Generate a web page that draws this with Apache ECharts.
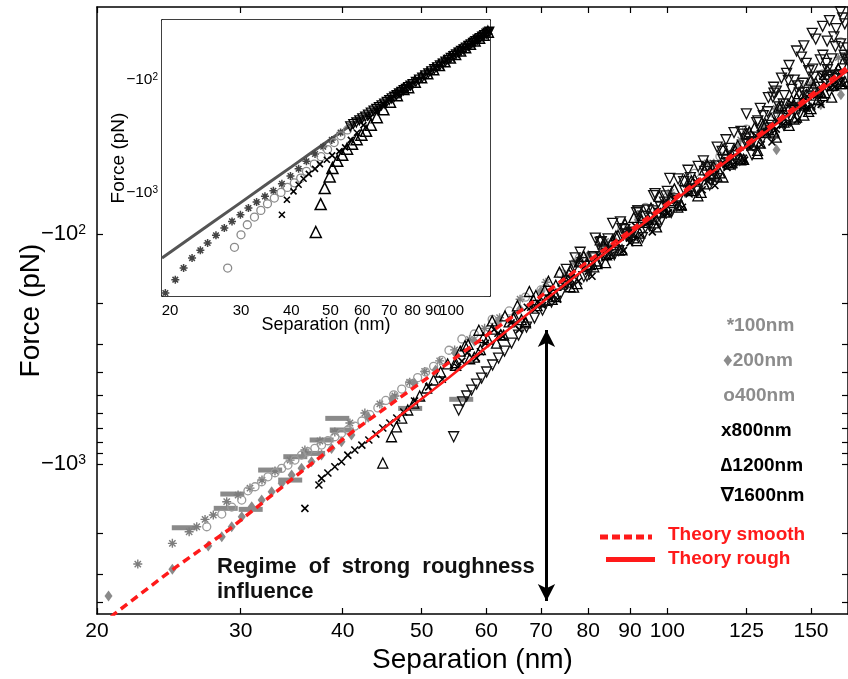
<!DOCTYPE html>
<html><head><meta charset="utf-8">
<script src="https://cdn.jsdelivr.net/npm/echarts@6/dist/echarts.min.js"></script>
<style>html,body{margin:0;padding:0;background:#fff}#c{width:848px;height:679px}</style>
</head><body><div id="c"></div>
<script>
// ---------- tick values ----------
const xTickMain = [20,30,40,50,60,70,80,90,100,125,150];
const yLabelMain = [100,1000];
const yTickMain = [100,200,300,400,500,600,700,800,900,1000,2000,3000,4000];
const xLabelInset = [20,30,40,50,60,70,80,90];
const xLabelInsetLast = [100];
const xTickInset = [20,30,40,50,60,70,80,90,100,110,120];
const yLabelInset = [100,1000];
const yTickInset = [100,200,300,400,500,600,700,800,900,1000,2000,3000,4000,5000,6000,7000,8000];

// ---------- main plot data: [separation nm, |force| pN] ----------
const s100 = [[22.44,2722],[24.74,2212],[25.94,1970],[26.50,1873],[27.13,1740],[27.77,1666],[28.84,1458],[29.78,1364],[30.80,1272],[31.86,1174],[33.05,1073],[34.49,961],[35.96,869],[37.52,794],[39.13,726],[40.83,663],[42.59,600],[44.43,548],[46.35,506],[48.33,441],[50.42,396],[52.6,356],[54.87,319],[57.23,287],[59.71,257],[62.29,231],[66,192],[71,162],[77,133.6],[84,107.6],[92,82.2],[101,65.9],[112,49.1],[123,39.0],[136,28.4],[150,22.3],[162,17.1]];
const s200 = [[20.66,3749],[24.74,2870],[27.38,2273],[28.44,2071],[29.25,1873],[30.09,1695],[30.95,1533],[31.83,1434],[32.74,1320],[33.68,1213],[34.64,1116],[35.62,1044],[36.64,977],[37.69,914],[38.77,855],[39.87,800],[41.01,748],[43,626],[46,522],[49,445],[52,390],[55,331],[58,292],[62,241],[66,212],[70,177],[75,151],[80,123.5],[86,105.5],[92,86.7],[99,72.4],[106,61.3],[114,49.5],[122,42.0],[131,34.0],[136.1,43.0],[145,27.2],[154.2,27.4],[163.2,24.8]];
const s400 = [[27.26,1873],[28.44,1650],[29.25,1538],[30.09,1434],[30.62,1307],[31.24,1255],[31.83,1194],[32.40,1136],[33.05,1091],[33.68,1044],[34.28,1010],[34.96,961],[35.62,914],[36.26,884],[36.98,855],[37.69,827],[38.37,792],[39.13,761],[39.87,735],[40.59,711],[41.40,684],[42.23,650],[43.19,610],[44.18,570],[45.18,529],[46.21,500],[47.26,472],[48.33,446],[49.43,421],[50.56,398],[51.71,376],[52.89,354],[54,320],[56,286],[58,272],[61,235],[64,216],[67,188],[70,175],[74,148.7],[78,127],[83,113.6],[88,94.7],[94,76.5],[100,69.1],[108,54.5],[116,45.9],[125,35.0],[135,29.9],[145,22.3],[155,20.1],[163,14.6]];
const s800 = [[35.96,1558],[37.41,1234],[37.69,1154],[38.37,1094],[39.13,1027],[39.87,977],[40.59,914],[41.40,869],[42.23,827],[43.07,786],[43.93,741],[44.80,697],[45.69,663],[46.60,631],[47.53,594],[49,532],[51,462],[53,428],[56,357],[59,325],[62,270],[65,248],[68,208],[72,191],[76,156],[80,145],[85,114.5],[90,109],[95,87.4],[100,81.2],[106,64.2],[112,59.0],[118,49.9],[124,46.8],[130,36.5],[136,35.0],[142,27.1],[148,28.4],[155,20.5],[161,21.8]];
const s800band = [[55.35,379.5],[56.85,328.4],[58.35,346.2],[59.85,298.9],[61.35,259.7],[62.85,278.9],[64.35,243.4],[65.85,260.2],[67.35,208],[68.85,212.8],[70.35,204.6],[71.85,179.8],[73.35,192.1],[74.85,167.8],[76.35,147.4],[77.85,160],[79.35,141.3],[80.85,152.6],[82.35,123.4],[83.85,127.1],[85.35,123.4],[86.85,109.4],[88.35,118],[89.85,104.1],[91.35,92.1],[92.85,100.9],[94.35,89.9],[95.85,97.8],[97.35,79.6],[98.85,82.6],[100.35,80.9],[102.35,71.3],[104.35,76.5],[106.35,67],[108.35,59],[110.35,64.2],[112.35,56.8],[114.35,61.5],[116.35,49.7],[118.35,51.3],[120.35,49.8],[122.35,44.3],[124.35,47.7],[126.35,42.1],[128.35,37.3],[130.35,40.9],[132.35,36.5],[134.35,39.8],[136.35,32.4],[138.35,33.6],[140.35,32.9],[142.35,29.4],[144.35,31.9],[146.35,28.3],[148.35,25.2],[150.35,27.8],[152.35,24.9],[154.35,27.3],[156.35,22.3],[158.35,23.2],[160.35,22.9],[162.35,20.5],[164.35,22.4]];
const s1200 = [[44.80,990],[45.91,761],[46.56,689],[47.26,631],[48.07,582],[48.89,543],[49.72,506],[50.71,467],[51.71,431],[52.75,398],[53.80,367],[55,362],[57,302],[59,318],[61,259],[63,275],[65,229],[67,240],[69,185],[71,194],[73,167],[76,169.5],[78,132],[82,131],[84,133],[87,101.4],[91,104],[93,87],[97,86.2],[101,71.6],[104,74.9],[107,58.7],[111,60.5],[114,51.0],[117,56.5],[120,45.3],[123,46.9],[126,35.9],[129,44.7],[132,33.3],[135,35.7],[138,27.6],[141,33.7],[144,25.6],[147,30.4],[150,21.4],[153,26.0],[156,20.2],[159,25.4],[162,19.1],[165,21.7]];
const s1200band = [[55,372.6],[56.5,305.9],[58,343.1],[59.5,282],[61,238.5],[62.5,273.9],[64,241],[65.5,205.1],[67,243.4],[68.5,193.1],[70,197.2],[71.5,160.4],[73,187],[74.5,159.9],[76,144.4],[77.5,164.3],[79,125],[80.5,135.8],[82,134.5],[83.5,110.6],[85,121.2],[86.5,101.9],[88,117],[89.5,98.2],[91,84.6],[92.5,99.1],[94,89],[95.5,77.1],[97,93.1],[98.5,75],[100,77.9],[102,63.6],[104,74.5],[106,63.8],[108,57.8],[110,65.9],[112,50.2],[114,54.7],[116,54.2],[118,44.7],[120,48.9],[122,41.2],[124,47.3],[126,39.7],[128,34.3],[130,40.2],[132,36.2],[134,31.3],[136,37.9],[138,30.5],[140,31.7],[142,26.2],[144,31],[146,27],[148,24.7],[150,28.5],[152,22],[154,24.3],[156,24.3],[158,20.2],[160,22.5],[162,19.1],[164,22.2],[166,18.9],
  [55.75,323],[57.25,348.4],[58.75,262],[60.25,286.6],[61.75,297.9],[63.25,227],[64.75,231.5],[66.25,235.5],[67.75,177.7],[69.25,204.9],[70.75,175.4],[72.25,192.1],[73.75,146.4],[75.25,161.9],[76.75,170.1],[78.25,131],[79.75,135.3],[81.25,138.8],[82.75,106.1],[84.25,123],[85.75,106.3],[87.25,117.5],[88.75,90.3],[90.25,100.8],[91.75,106.7],[93.25,82.9],[94.75,86.3],[96.25,89.4],[97.75,68.6],[99.25,80.2],[101,69.5],[103,76.3],[105,58.4],[107,64.8],[109,68.2],[111,52.6],[113,54.4],[115,56],[117,42.8],[119,49.7],[121,43],[123,47.6],[125,36.6],[127,40.9],[129,43.3],[131,33.6],[133,35.1],[135,36.3],[137,28],[139,32.6],[141,28.5],[143,31.6],[145,24.5],[147,27.5],[149,29.3],[151,22.9],[153,24],[155,25],[157,19.3],[159,22.6],[161,19.9],[163,22.2],[165,17.3]];
const s1600 = [[54.72,761],[55.50,582],[56.12,537],[56.76,506],[57.56,477],[58.38,449],[59.21,423],[60.05,398],[61.07,371],[62.11,346],[63.17,323],[64.43,298],[65.72,275],[67.21,254],[68.74,232],[70.31,214],[72.11,197.5],[73.96,182.3],[75,168],[77,138],[79,153],[81,127],[83,108],[86,120],[88,94.7],[90,102.7],[92,79.3],[94,93.5],[96,79.3],[98,89.1],[100,65.2],[103,71.5],[106,52.8],[109,65],[112,51.3],[115,57.4],[118,38.9],[121,45.7],[124,36.8],[125,30],[127,45.2],[130,28.4],[133,36.5],[133,25.5],[136,23.9],[139,33.7],[140,20],[142,23.5],[145,28.6],[146,17],[148,18.1],[150.5,13.4],[151,27.5],[154,17.5],[157,20.8],[157,14.5],[160,13.9],[163,21.9],[163,10.8],[165,12.2],[166,15.5],[141,18.5],[144,16],[147,15.2],[152,14.2],[155,12.5],[158,11.8],[161,12.8],[164,11.5],[138,21],[135,23]];
const s1600band = [[75.2,142.5],[76.7,159.4],[78.2,120],[79.7,152.2],[81.2,125.4],[82.7,108.6],[84.2,121.2],[85.7,89.8],[87.2,118],[88.7,95.4],[90.2,98.2],[91.7,80.8],[93.2,103.6],[94.7,78.6],[96.2,68],[97.7,83.6],[99.2,72.7],[100.7,57.3],[102.7,75.5],[104.7,59.2],[106.7,56.9],[108.7,63.8],[110.7,48.1],[112.7,61.2],[114.7,50.5],[116.7,43.7],[118.7,48.9],[120.7,36.2],[122.7,47.7],[124.7,38.6],[126.7,39.7],[128.7,32.8],[130.7,38.6],[132.7,29.4],[134.7,25.4],[136.7,31.3],[138.7,27.2],[140.7,21.5],[142.7,28.6],[144.7,22.7],[146.7,22.1],[148.7,25.1],[150.7,19.2],[152.7,24.6],[154.7,20.6],[156.7,18.1],[158.7,20.4],[160.7,15.3],[162.7,20.3],[164.7,16.7],[166.4,17.4],
  [75.6,159.7],[77.1,126.9],[78.6,133.1],[80.1,145],[81.6,104.1],[83.1,118.5],[84.6,105],[86.1,123],[87.6,88.5],[89.1,100.5],[90.6,99.1],[92.1,79.3],[93.6,83.9],[95.1,92.2],[96.6,66.7],[98.1,76.4],[99.6,68.3],[101.1,80.6],[103.1,57.6],[105.1,65.1],[107.1,63.8],[109.1,50.8],[111.1,53.4],[113.1,58.3],[115.1,41.9],[117.1,47.7],[119.1,42.4],[121.1,49.7],[123.1,35.8],[125.1,40.7],[127.1,40],[129.1,32.2],[131.1,30.6],[133.1,33.7],[135.1,24.4],[137.1,28],[139.1,25],[141.1,29.5],[143.1,21.4],[145.1,24.4],[147.1,24.2],[149.1,19.5],[151.1,20.8],[153.1,23],[155.1,16.7],[157.1,19.3],[159.1,17.3],[161.1,20.5],[163.1,14.9],[165.1,17.2]];
const bars200 = [[25.55,1892],[28.76,1558],[30.86,1574],[29.3,1350],[34.5,1174],[32.6,1062],[35.0,929],[36.8,899],[37.7,786],[39.9,711],[39.4,633],[48.4,573],[55.9,523]];
const theorySmooth = [[20.8,4640],[21.05,4458],[24.70,2890],[28.97,1936],[34.96,1136],[41.40,711],[54.10,360],[69.72,188],[109.4,58.2],[163.8,19.55],[166.5,18.7]];
const theoryRough = [[42.79,800],[54.10,418],[71.06,191.7],[91.57,95.1],[115.7,51.1],[166.5,19.4]];
const arrowEnds = [[71.1,261.5],[71.1,3941]];

// ---------- inset data ----------
const inTheory = [[19.1,3750],[25,1908],[30,1208],[35,820],[40,587],[45,436],[51.9,305],[65,176],[80,106.6],[100,62],[124.5,36.2]];
const in100 = [[19.47,7632],[20.61,5821],[21.61,4592],[22.68,3748],[23.78,3204],[24.79,2762],[26.0,2362],[27.27,2037],[28.5,1778],[29.9,1554],[31.3,1357],[32.8,1200],[34.4,1069],[36.1,954],[37.9,828],[39.8,706],[41.7,610],[43.6,523],[45.8,452],[48.0,390],[50.4,339],[53,292],[56,255],[59,226]];
const in400 = [[27.8,4592],[28.9,3013],[30.0,2336],[31.1,1905],[32.4,1629],[33.6,1422],[34.9,1242],[36.3,1107],[37.7,987],[39.1,891],[40.7,811],[42.2,738],[43.6,643],[45.6,555],[47.4,477],[49.2,413],[51.1,358],[53.1,312],[55.1,277]];
const in800 = [[37.9,1554],[39.0,1146],[40.5,966],[41.7,845],[42.9,748],[44.2,676],[45.8,611],[47.1,555],[49.0,508],[50.5,465],[52.6,428],[54.4,395],[56.2,339],[58.2,293],[60.4,251],[62.7,216],[65.2,187],[67.7,163],[70,150],[73,134],[76,122],[79,111],[82,101],[85,92],[88,85],[91,78],[94,72],[97,67],[100,62.5],[103,58],[106,54],[109,50.5],[112,47.5],[115,44.5],[118,42],[121,39.5],[124,37.4]];
const in1200 = [[46.0,2208],[47.3,1250],[48.4,903],[49.8,713],[50.6,601],[52.0,519],[53.5,459],[55.0,406],[56.6,367],[58.1,334],[59.7,305],[61.3,282],[63.0,249],[65.2,214],[67.7,182],[70.3,156],[73.1,136.5],[75.9,120.7],[78,116],[81,104],[84,95],[87,87.5],[90,80.5],[93,74],[96,68.5],[99,63.5],[102,59],[105,55],[108,51.5],[111,48],[114,45],[117,42.5],[120,40],[123,37.6]];
const in1600 = [[56,258],[58,238],[60,219],[62,203],[64,187],[66,174],[68,162],[70,151],[72,141],[74,132],[76,123.5],[78,116],[80,109],[83,99.5],[86,91.5],[89,84],[92,77.5],[95,71.8],[98,66.5],[101,61.8],[104,57.5],[107,53.7],[110,50.2],[113,47.1],[116,44.1],[119,41.5],[122,39],[124,37.6],
  [57,246],[59,228],[61,211],[63,195],[65,180.5],[67,168],[69,156.5],[71,146],[73,136.5],[75,128],[77,120],[79,112.5],[81.5,104],[84.5,95.5],[87.5,87.5],[90.5,80.5],[93.5,74.5],[96.5,69],[99.5,64],[102.5,59.5],[105.5,55.5],[108.5,52],[111.5,48.6],[114.5,45.6],[117.5,42.8],[120.5,40.2],[123,38.2]];

// ---------- text ----------
const legendGray = ['*100nm','\u2666200nm','o400nm'];
const legendBlack = ['x800nm','\u22061200nm','\u22071600nm'];
const theoryNames = ['Theory smooth','Theory rough'];
const noteLines = ['Regime  of  strong  roughness','influence'];

const FONT = '"Liberation Sans", Arial, Helvetica, sans-serif';
const ASTER = 'path://M5,0L5,10M0,5L10,5M1.5,1.5L8.5,8.5M8.5,1.5L1.5,8.5';
const XMARK = 'path://M0,0L10,10M10,0L0,10';

function powLabel(v){ return '{m|\u221210}{s|' + Math.round(Math.log10(v)) + '}'; }

function xAx(grid, pos, min, max, ticks, labels, fs, name, nameGap, nameFs, noLine){
  return {
    type:'log', logBase:10, gridIndex:grid, position:pos, min:min, max:max,
    axisLine:{show:!noLine, onZero:false, lineStyle:{color:'#000', width:1.5}},
    axisTick:{show:!!ticks, inside:true, length:6, customValues:ticks || [], lineStyle:{color:'#000', width:1.2}},
    axisLabel: labels ? {show:true, customValues:labels, interval:0, hideOverlap:false, fontSize:fs, color:'#000', fontFamily:FONT, margin:7,
      formatter:function(v){return String(Math.round(v));}} : {show:false},
    splitLine:{show:false}, minorTick:{show:false}, minorSplitLine:{show:false},
    name: name || '', nameLocation:'middle', nameGap: nameGap || 0, nameMoveOverlap:false,
    nameTextStyle:{fontSize:nameFs || 12, color:'#000', fontFamily:FONT}
  };
}
function yAx(grid, pos, min, max, ticks, labels, fs, sfs, name, nameGap, nameFs, margin){
  return {
    type:'log', logBase:10, gridIndex:grid, position:pos, min:min, max:max, inverse:true,
    axisLine:{show:true, onZero:false, lineStyle:{color:'#000', width:1.5}},
    axisTick:{show:true, inside:true, length:6, customValues:ticks, lineStyle:{color:'#000', width:1.2}},
    axisLabel: labels ? {show:true, customValues:labels, interval:0, hideOverlap:false, color:'#000', fontFamily:FONT, margin:margin,
      formatter:powLabel,
      rich:{m:{fontSize:fs, color:'#000', fontFamily:FONT}, s:{fontSize:sfs, color:'#000', fontFamily:FONT, verticalAlign:'top'}}} : {show:false},
    splitLine:{show:false}, minorTick:{show:false}, minorSplitLine:{show:false},
    name: name || '', nameLocation:'middle', nameGap: nameGap || 0, nameRotate:90, nameMoveOverlap:false,
    nameTextStyle:{fontSize:nameFs || 12, color:'#000', fontFamily:FONT}
  };
}

function scat(data, xi, yi, symbol, size, fill, stroke, bw, z, rot){
  return {type:'scatter', xAxisIndex:xi, yAxisIndex:yi, data:data, symbol:symbol, symbolSize:size,
    symbolRotate: rot || 0, silent:true, z:z, emphasis:{disabled:true}, large:false,
    itemStyle:{color:fill, borderColor:stroke, borderWidth:bw, opacity:1}};
}

const series = [
  // main
  scat(bars200, 0, 0, 'rect', [24,5], '#8a8a8a', '#8a8a8a', 0, 2),
  scat(s100, 0, 0, ASTER, 9, 'transparent', '#7d7d7d', 1.4, 3),
  scat(s400, 0, 0, 'circle', 8, 'transparent', '#9a9a9a', 1.3, 3),
  scat(s200, 0, 0, 'diamond', [8,11], '#8a8a8a', '#8a8a8a', 0, 3),
  scat(s800.concat(s800band), 0, 0, XMARK, 7, 'transparent', '#000', 1.6, 4),
  scat(s1200.concat(s1200band), 0, 0, 'triangle', 10, 'transparent', '#000', 1.3, 4),
  scat(s1600.concat(s1600band), 0, 0, 'triangle', 10, 'transparent', '#111', 1.3, 4, 180),
  {type:'line', xAxisIndex:0, yAxisIndex:0, data:theoryRough, showSymbol:false, symbol:'none', silent:true, z:8,
    lineStyle:{color:'#ff1a1a', width:2.5},
    markLine:{silent:true, symbol:['arrow','arrow'], symbolSize:[13,17], label:{show:false},
      lineStyle:{color:'#000', width:3, type:'solid'}, emphasis:{disabled:true},
      data:[[{coord:arrowEnds[0]},{coord:arrowEnds[1]}]]}},
  {type:'line', xAxisIndex:0, yAxisIndex:0, data:theorySmooth, showSymbol:false, symbol:'none', silent:true, z:9,
    lineStyle:{color:'#ff1a1a', width:3.5, type:[8,5]}},
  // inset
  {type:'line', xAxisIndex:2, yAxisIndex:2, data:inTheory, showSymbol:false, symbol:'none', silent:true, z:10,
    lineStyle:{color:'#555', width:3}},
  scat(in100, 2, 2, ASTER, 8, 'transparent', '#444', 1.5, 11),
  scat(in400, 2, 2, 'circle', 8, 'transparent', '#8a8a8a', 1.3, 11),
  scat(in800, 2, 2, XMARK, 6, 'transparent', '#000', 1.6, 12),
  scat(in1200, 2, 2, 'triangle', 11, 'transparent', '#000', 1.5, 12),
  scat(in1600, 2, 2, 'triangle', 9, 'transparent', '#000', 1.3, 12, 180)
];

const graphic = [];
const gy = [325.5, 360.5, 395.8], gx = [726.7, 723, 723.3];
legendGray.forEach(function(t,i){
  graphic.push({type:'text', x:gx[i], y:gy[i], z:20, style:{text:t, fill:'#8c8c8c', font:'bold 19px ' + FONT, verticalAlign:'middle'}});
});
const by = [430.8, 465.8, 496.2], bx = [721, 720.7, 720.7];
legendBlack.forEach(function(t,i){
  graphic.push({type:'text', x:bx[i], y:by[i], z:20, style:{text:t, fill:'#000', font:'bold 19px ' + FONT, verticalAlign:'middle'}});
});
graphic.push({type:'line', z:20, shape:{x1:600, y1:537, x2:652, y2:537}, style:{stroke:'#ff1a1a', lineWidth:5, lineDash:[8,4]}});
graphic.push({type:'text', x:668, y:534.5, z:20, style:{text:theoryNames[0], fill:'#ff1a1a', font:'bold 19px ' + FONT, verticalAlign:'middle'}});
graphic.push({type:'line', z:20, shape:{x1:606, y1:559.5, x2:655, y2:559.5}, style:{stroke:'#ff1a1a', lineWidth:5}});
graphic.push({type:'text', x:668, y:558.5, z:20, style:{text:theoryNames[1], fill:'#ff1a1a', font:'bold 19px ' + FONT, verticalAlign:'middle'}});
graphic.push({type:'text', x:217, y:567, z:20, style:{text:noteLines[0], fill:'#111', font:'bold 22px ' + FONT, verticalAlign:'middle'}});
graphic.push({type:'text', x:217, y:592, z:20, style:{text:noteLines[1], fill:'#111', font:'bold 22px ' + FONT, verticalAlign:'middle'}});

const option = {
  animation:false,
  backgroundColor:'#fff',
  textStyle:{fontFamily:FONT},
  grid:[
    {left:97, top:7, width:752, height:607, containLabel:false},
    {left:162, top:20, width:328, height:276, show:true, backgroundColor:'#fff', borderWidth:0, containLabel:false, z:5}
  ],
  xAxis:[
    xAx(0,'bottom',20,166.5,xTickMain,xTickMain,21,'Separation (nm)',32,28),
    xAx(0,'top',20,166.5,xTickMain,null),
    xAx(1,'bottom',19.1,124.5,xTickInset,xLabelInset,15,'Separation (nm)',20,18),
    xAx(1,'top',19.1,124.5,xTickInset,null),
    xAx(1,'bottom',19.1,124.5,null,xLabelInsetLast,15,'',0,12,true)
  ],
  yAxis:[
    yAx(0,'left',10.3,4487,yTickMain,yLabelMain,22,14,'Force (pN)',52,28,11),
    yAx(0,'right',10.3,4487,yTickMain,null),
    yAx(1,'left',29.6,8110,yTickInset,yLabelInset,15.5,10,'Force (pN)',34,19,4),
    yAx(1,'right',29.6,8110,yTickInset,null)
  ],
  series:series,
  graphic:graphic
};
const chart = echarts.init(document.getElementById('c'), null, {renderer:'canvas'});
chart.setOption(option);
</script></body></html>
